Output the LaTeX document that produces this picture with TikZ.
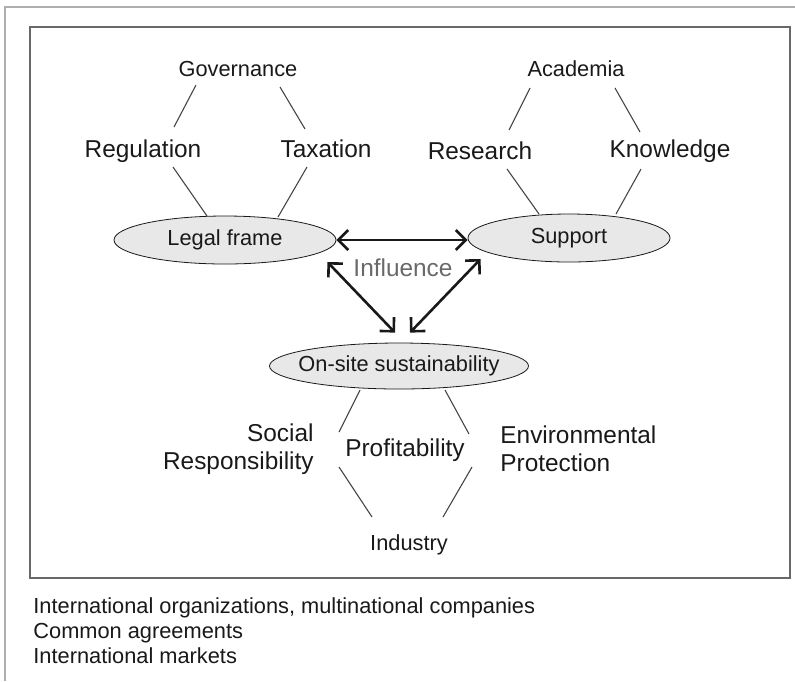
\documentclass[tikz,border=0pt]{standalone}
\usepackage{fontspec}
\setmainfont{Liberation Sans}
\usetikzlibrary{arrows.meta, shapes.geometric}
\definecolor{FrameGray}{RGB}{175,175,175}
\definecolor{BoxGray}{RGB}{105,105,105}
\definecolor{FillGray}{RGB}{232,232,232}
\definecolor{InkGray}{RGB}{25,25,25}
\definecolor{LineGray}{RGB}{70,70,70}
\definecolor{SoftGray}{RGB}{105,105,105}

\begin{document}
\begin{tikzpicture}[x=0.5pt, y=-0.5pt,
	lab/.style={text=InkGray, inner sep=0pt, font=\fontsize{12.2}{14}\selectfont},
	sml/.style={text=InkGray, inner sep=0pt, font=\fontsize{10.9}{13}\selectfont},
	elli/.style={ellipse, draw=InkGray, fill=FillGray, inner sep=0pt, text=InkGray, font=\fontsize{10.9}{13}\selectfont},
	lnk/.style={LineGray, line width=0.55pt},
	infl/.style={{Straight Barb[length=5pt, width=10pt]}-{Straight Barb[length=5pt, width=10pt]}, line width=1.3pt, InkGray}]

	\useasboundingbox (0,0) rectangle (795,681);
	\draw[FrameGray, line width=1pt] (5,681) -- (5,7) -- (795,7);
	\draw[BoxGray, line width=0.8pt] (30,27) rectangle (790,578);

	\node[elli, minimum width=111pt, minimum height=24pt] (legal) at (225,240) {Legal frame};
	\node[elli, minimum width=101pt, minimum height=24pt] (supp) at (569,238) {Support};
	\node[elli, inner xsep=-4.5pt, minimum width=129pt, minimum height=23pt] (site) at (399,366) {On-site sustainability};

	\node[sml] (gov) at (238,69) {Governance};
	\node[lab] (reg) at (143,151) {Regulation};
	\node[lab] (tax) at (326,149) {Taxation};
	\node[sml] (aca) at (576,69) {Academia};
	\node[lab] (res) at (480,151) {Research};
	\node[lab] (know) at (670,151) {Knowledge};
	\node[lab, align=right, anchor=east] (soc) at (314,449) {Social\\Responsibility};
	\node[lab] (prof) at (405,450) {Profitability};
	\node[lab, align=left, anchor=west] (env) at (500,449) {Environmental\\Protection};
	\node[sml] (ind) at (409,545) {Industry};
	\node[lab, text=SoftGray] (inf) at (403,268) {Influence};

	% influence arrows between the three ellipses
	\draw[infl] (legal.east) -- (legal.east -| supp.west);
	\draw[infl] ([shift={(-9,22)}]legal.east) -- ([shift={(-4,-10)}]site.north);
	\draw[infl] ([shift={(13,21)}]supp.west) -- ([shift={(11,-10)}]site.north);

	% thin links between the labels
	\foreach \n/\x/\y in {g1/196/85, g2/174/127, g3/280/87, g4/305/129,
		r1/173/167, r2/207/216, t1/307/167, t2/278/217,
		a1/530/88, a2/509/130, a3/615/88, a4/640/132,
		s1/507/169, s2/539/214, k1/641/169, k2/616/214,
		o1/360/390, o2/339/432, o3/445/390, o4/469/434,
		i1/339/467, i2/372/517, i3/472/467, i4/443/517}
		\coordinate (\n) at (\x,\y);
	\foreach \a/\b in {g1/g2, g3/g4, r1/r2, t1/t2, a1/a2, a3/a4,
		s1/s2, k1/k2, o1/o2, o3/o4, i1/i2, i3/i4}
		\draw[lnk] (\a) -- (\b);

	\foreach \t [count=\i] in {{International organizations, multinational companies},
		Common agreements, International markets}
		\node[sml, anchor=base west] (foot\i) at (33,588+25*\i) {\t};
\end{tikzpicture}
\end{document}
